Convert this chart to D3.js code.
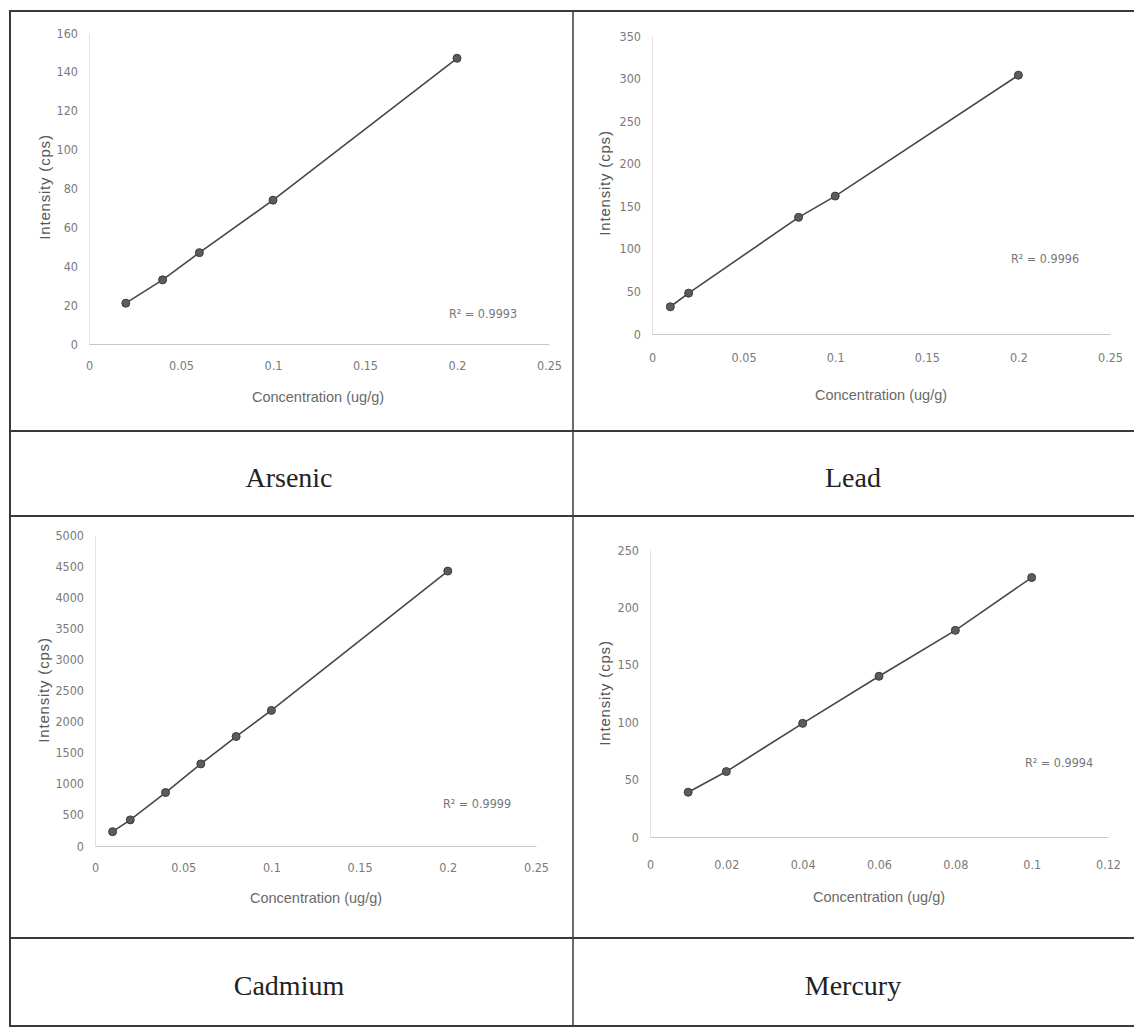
<!DOCTYPE html>
<html>
<head>
<meta charset="utf-8">
<script src="https://cdn.jsdelivr.net/npm/d3@7"></script>
<style>
  body { margin: 0; background: #fff; }
  .tick text { font-family: "Liberation Sans Narrow", "DejaVu Sans Condensed", sans-serif; font-size: 12.5px; fill: #7a7a7a; }
</style>
</head>
<body>
<div id="chart"></div>
<script>
// Calibration data
const arsenicConc = [0.02, 0.04, 0.06, 0.1, 0.2];
const arsenicInt = [21, 33, 47, 74, 147];
const leadConc = [0.01, 0.02, 0.08, 0.1, 0.2];
const leadInt = [32, 48, 137, 162, 304];
const cadmiumConc = [0.01, 0.02, 0.04, 0.06, 0.08, 0.1, 0.2];
const cadmiumInt = [230, 420, 860, 1320, 1760, 2180, 4420];
const mercuryConc = [0.01, 0.02, 0.04, 0.06, 0.08, 0.1];
const mercuryInt = [39, 57, 99, 140, 180, 226];

// Tick labels
const concTicks25 = [0, 0.05, 0.1, 0.15, 0.2, 0.25];
const concTicks12 = [0, 0.02, 0.04, 0.06, 0.08, 0.1, 0.12];
const arsenicTicks = [0, 20, 40, 60, 80, 100, 120, 140, 160];
const leadTicks = [0, 50, 100, 150, 200, 250, 300, 350];
const cadmiumTicks = [0, 500, 1000, 1500, 2000, 2500, 3000, 3500, 4000, 4500, 5000];
const mercuryTicks = [0, 50, 100, 150, 200, 250];

const elements = ["Arsenic", "Lead", "Cadmium", "Mercury"];
const rSquared = ["R² = 0.9993", "R² = 0.9996", "R² = 0.9999", "R² = 0.9994"];

const W = 1134, H = 1030;

// panel layout (pixel boxes of each plot)
const panels = [
  { x: arsenicConc, y: arsenicInt, xTicks: concTicks25, yTicks: arsenicTicks,
    xr: [89, 549], yr: [344, 33], pad: 17, xTitle: [318, 397], yTitle: [44, 187], r2: [483, 313], label: [289, 477] },
  { x: leadConc, y: leadInt, xTicks: concTicks25, yTicks: leadTicks,
    xr: [652, 1110], yr: [334, 36], pad: 19, xTitle: [881, 395], yTitle: [604, 183], r2: [1045, 258], label: [853, 477] },
  { x: cadmiumConc, y: cadmiumInt, xTicks: concTicks25, yTicks: cadmiumTicks,
    xr: [95, 536], yr: [846, 535], pad: 17, xTitle: [316, 898], yTitle: [43, 690], r2: [477, 803], label: [289, 985] },
  { x: mercuryConc, y: mercuryInt, xTicks: concTicks12, yTicks: mercuryTicks,
    xr: [650, 1108], yr: [837, 550], pad: 23, xTitle: [879, 897], yTitle: [604, 693], r2: [1059, 762], label: [853, 985] }
];

const svg = d3.select("#chart")
  .append("svg")
  .attr("width", W)
  .attr("height", H);

// table frame
const frame = svg.append("g").attr("stroke", "#3a3a3a").attr("fill", "none");
frame.append("line").attr("x1", 10).attr("x2", W).attr("y1", 11).attr("y2", 11).attr("stroke-width", 2);
frame.append("line").attr("x1", 10).attr("x2", 10).attr("y1", 10).attr("y2", 1027).attr("stroke-width", 2);
frame.append("line").attr("x1", 573).attr("x2", 573).attr("y1", 10).attr("y2", 1027).attr("stroke-width", 1.5);
[431, 516, 938, 1026].forEach(yy => {
  frame.append("line").attr("x1", 10).attr("x2", W).attr("y1", yy).attr("y2", yy).attr("stroke-width", 2);
});

panels.forEach((p, i) => {
  const g = svg.append("g");
  const xMax = p.xTicks[p.xTicks.length - 1];
  const yMax = p.yTicks[p.yTicks.length - 1];

  const x = d3.scaleLinear().domain([0, xMax]).range(p.xr);
  const y = d3.scaleLinear().domain([0, yMax]).range(p.yr);

  // X axis
  const xAxis = g.append("g")
    .attr("transform", `translate(0,${p.yr[0]})`)
    .call(d3.axisBottom(x).tickValues(p.xTicks).tickSize(0).tickPadding(p.pad).tickFormat(d => String(d)));
  xAxis.select(".domain").attr("stroke", "#c8c8c8");

  // Y axis (plain numbers, no thousands separator)
  const yAxis = g.append("g")
    .attr("transform", `translate(${p.xr[0]},0)`)
    .call(d3.axisLeft(y).tickValues(p.yTicks).tickSize(0).tickPadding(11).tickFormat(d => String(d)));
  yAxis.select(".domain").attr("stroke", "#e2e2e2");

  // axis titles
  g.append("text")
    .attr("x", p.xTitle[0])
    .attr("y", p.xTitle[1])
    .attr("text-anchor", "middle")
    .attr("dominant-baseline", "central")
    .attr("font-family", "Liberation Sans, Arial, sans-serif")
    .attr("font-size", "14.5px")
    .attr("fill", "#6a6a6a")
    .text("Concentration (ug/g)");

  g.append("text")
    .attr("transform", `translate(${p.yTitle[0]},${p.yTitle[1]}) rotate(-90)`)
    .attr("text-anchor", "middle")
    .attr("dominant-baseline", "central")
    .attr("font-family", "Liberation Sans, Arial, sans-serif")
    .attr("font-size", "15px")
    .attr("letter-spacing", "0.8px")
    .attr("fill", "#555")
    .text("Intensity (cps)");

  // line + points
  const pts = p.x.map((c, k) => ({ c: c, v: p.y[k] }));
  const line = d3.line().x(d => x(d.c)).y(d => y(d.v));

  g.append("path")
    .datum(pts)
    .attr("fill", "none")
    .attr("stroke", "#474747")
    .attr("stroke-width", 1.6)
    .attr("d", line);

  g.selectAll("circle")
    .data(pts)
    .enter().append("circle")
    .attr("cx", d => x(d.c))
    .attr("cy", d => y(d.v))
    .attr("r", 4)
    .attr("fill", "#5c5c5c")
    .attr("stroke", "#3c3c3c")
    .attr("stroke-width", 1);

  // R squared
  g.append("text")
    .attr("x", p.r2[0])
    .attr("y", p.r2[1])
    .attr("text-anchor", "middle")
    .attr("dominant-baseline", "central")
    .attr("font-family", "Liberation Sans Narrow, DejaVu Sans Condensed, sans-serif")
    .attr("font-size", "12.5px")
    .attr("fill", "#777")
    .text(rSquared[i]);

  // element name row
  svg.append("text")
    .attr("x", p.label[0])
    .attr("y", p.label[1])
    .attr("text-anchor", "middle")
    .attr("dominant-baseline", "central")
    .attr("font-family", "Liberation Serif, Times New Roman, serif")
    .attr("font-size", "28px")
    .attr("fill", "#222")
    .text(elements[i]);
});
</script>
</body>
</html>
